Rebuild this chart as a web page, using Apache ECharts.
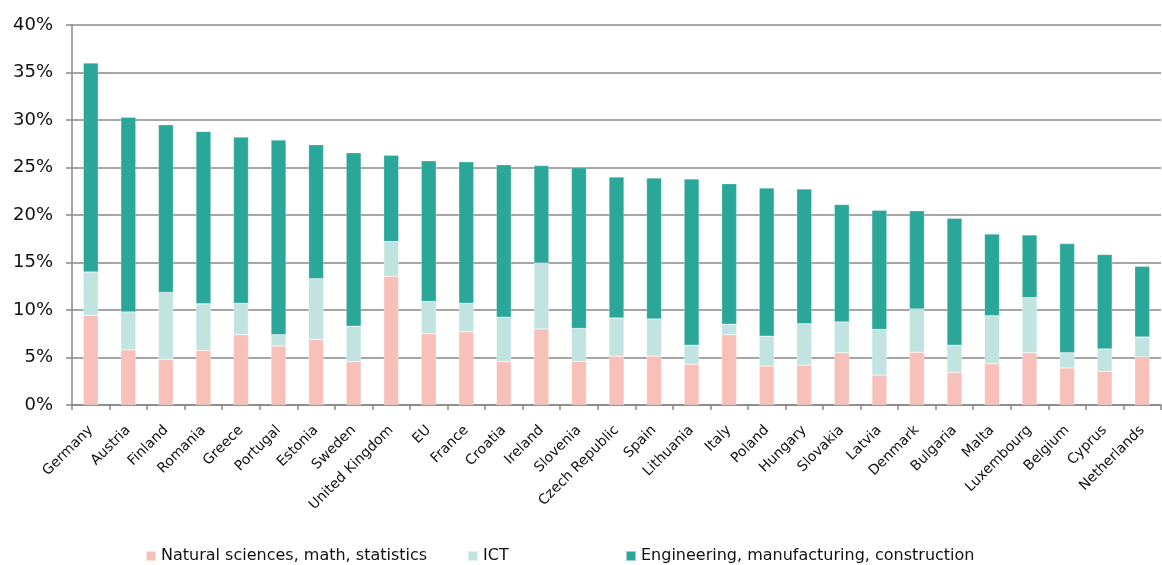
<!DOCTYPE html>
<html>
<head>
<meta charset="utf-8">
<script src="https://cdn.jsdelivr.net/npm/echarts@6/dist/echarts.min.js"></script>
<style>html,body{margin:0;padding:0;background:#fff}#c{width:1162px;height:565px}</style>
</head>
<body>
<div id="c"></div>
<script>
const categories = ["Germany","Austria","Finland","Romania","Greece","Portugal","Estonia","Sweden","United Kingdom","EU","France","Croatia","Ireland","Slovenia","Czech Republic","Spain","Lithuania","Italy","Poland","Hungary","Slovakia","Latvia","Denmark","Bulgaria","Malta","Luxembourg","Belgium","Cyprus","Netherlands"];
const natural = [9.45,5.8,4.8,5.75,7.4,6.2,6.9,4.55,13.55,7.5,7.7,4.55,8.0,4.6,5.15,5.15,4.3,7.4,4.1,4.2,5.5,3.15,5.55,3.45,4.35,5.5,3.9,3.55,5.05];
const ict = [4.55,4.0,7.05,4.9,3.3,1.2,6.4,3.75,3.65,3.4,3.0,4.7,6.95,3.45,4.0,3.9,2.0,1.1,3.15,4.35,3.25,4.8,4.55,2.85,5.05,5.8,1.6,2.35,2.1];
const engineering = [22.0,20.5,17.65,18.15,17.5,20.5,14.1,18.25,9.1,14.8,14.9,16.05,10.25,16.95,14.85,14.85,17.5,14.8,15.6,14.2,12.35,12.55,10.35,13.35,8.6,6.6,11.5,9.95,7.45];
const yTicks = [0,5,10,15,20,25,30,35,40];
const seriesNames = ["Natural sciences, math, statistics","ICT","Engineering, manufacturing, construction"];
const colors = ["#F7C1B9","#C1E4E1","#2BA799"];

const font = "'DejaVu Sans', Verdana, sans-serif";
const chart = echarts.init(document.getElementById('c'));
const legendBase = {
  top: 548, padding: 0, itemWidth: 10, itemHeight: 10, icon: 'rect',
  textStyle: {fontFamily: font, fontSize: 16, color: '#111'}
};
chart.setOption({
  animation: false,
  color: colors,
  grid: {left: 72, right: 1, top: 25, bottom: 160},
  legend: [
    Object.assign({left: 145, data: [seriesNames[0]]}, legendBase),
    Object.assign({left: 467, data: [seriesNames[1]]}, legendBase),
    Object.assign({left: 625, data: [seriesNames[2]]}, legendBase)
  ],
  xAxis: {
    type: 'category', data: categories,
    axisLine: {lineStyle: {color: '#888', width: 1.5}},
    axisTick: {show: true, alignWithLabel: false, length: 5, lineStyle: {color: '#888', width: 1.5}},
    axisLabel: {rotate: 45, interval: 0, margin: 23, fontFamily: font, fontSize: 14, color: '#111'}
  },
  yAxis: {
    type: 'value', min: yTicks[0], max: yTicks[yTicks.length-1], interval: 5,
    axisLine: {show: true, lineStyle: {color: '#888', width: 1.5}},
    axisTick: {show: true, length: 6, lineStyle: {color: '#888', width: 1.5}},
    axisLabel: {formatter: '{value}%', fontFamily: font, fontSize: 18, color: '#111', margin: 19},
    splitLine: {lineStyle: {color: '#888', width: 1.5}}
  },
  series: [natural, ict, engineering].map((d, i) => ({
    name: seriesNames[i], type: 'bar', stack: 'total', data: d, barWidth: 15,
    itemStyle: {color: colors[i], borderColor: 'rgba(255,255,255,0.5)', borderWidth: 0.5}
  }))
});
</script>
</body>
</html>
